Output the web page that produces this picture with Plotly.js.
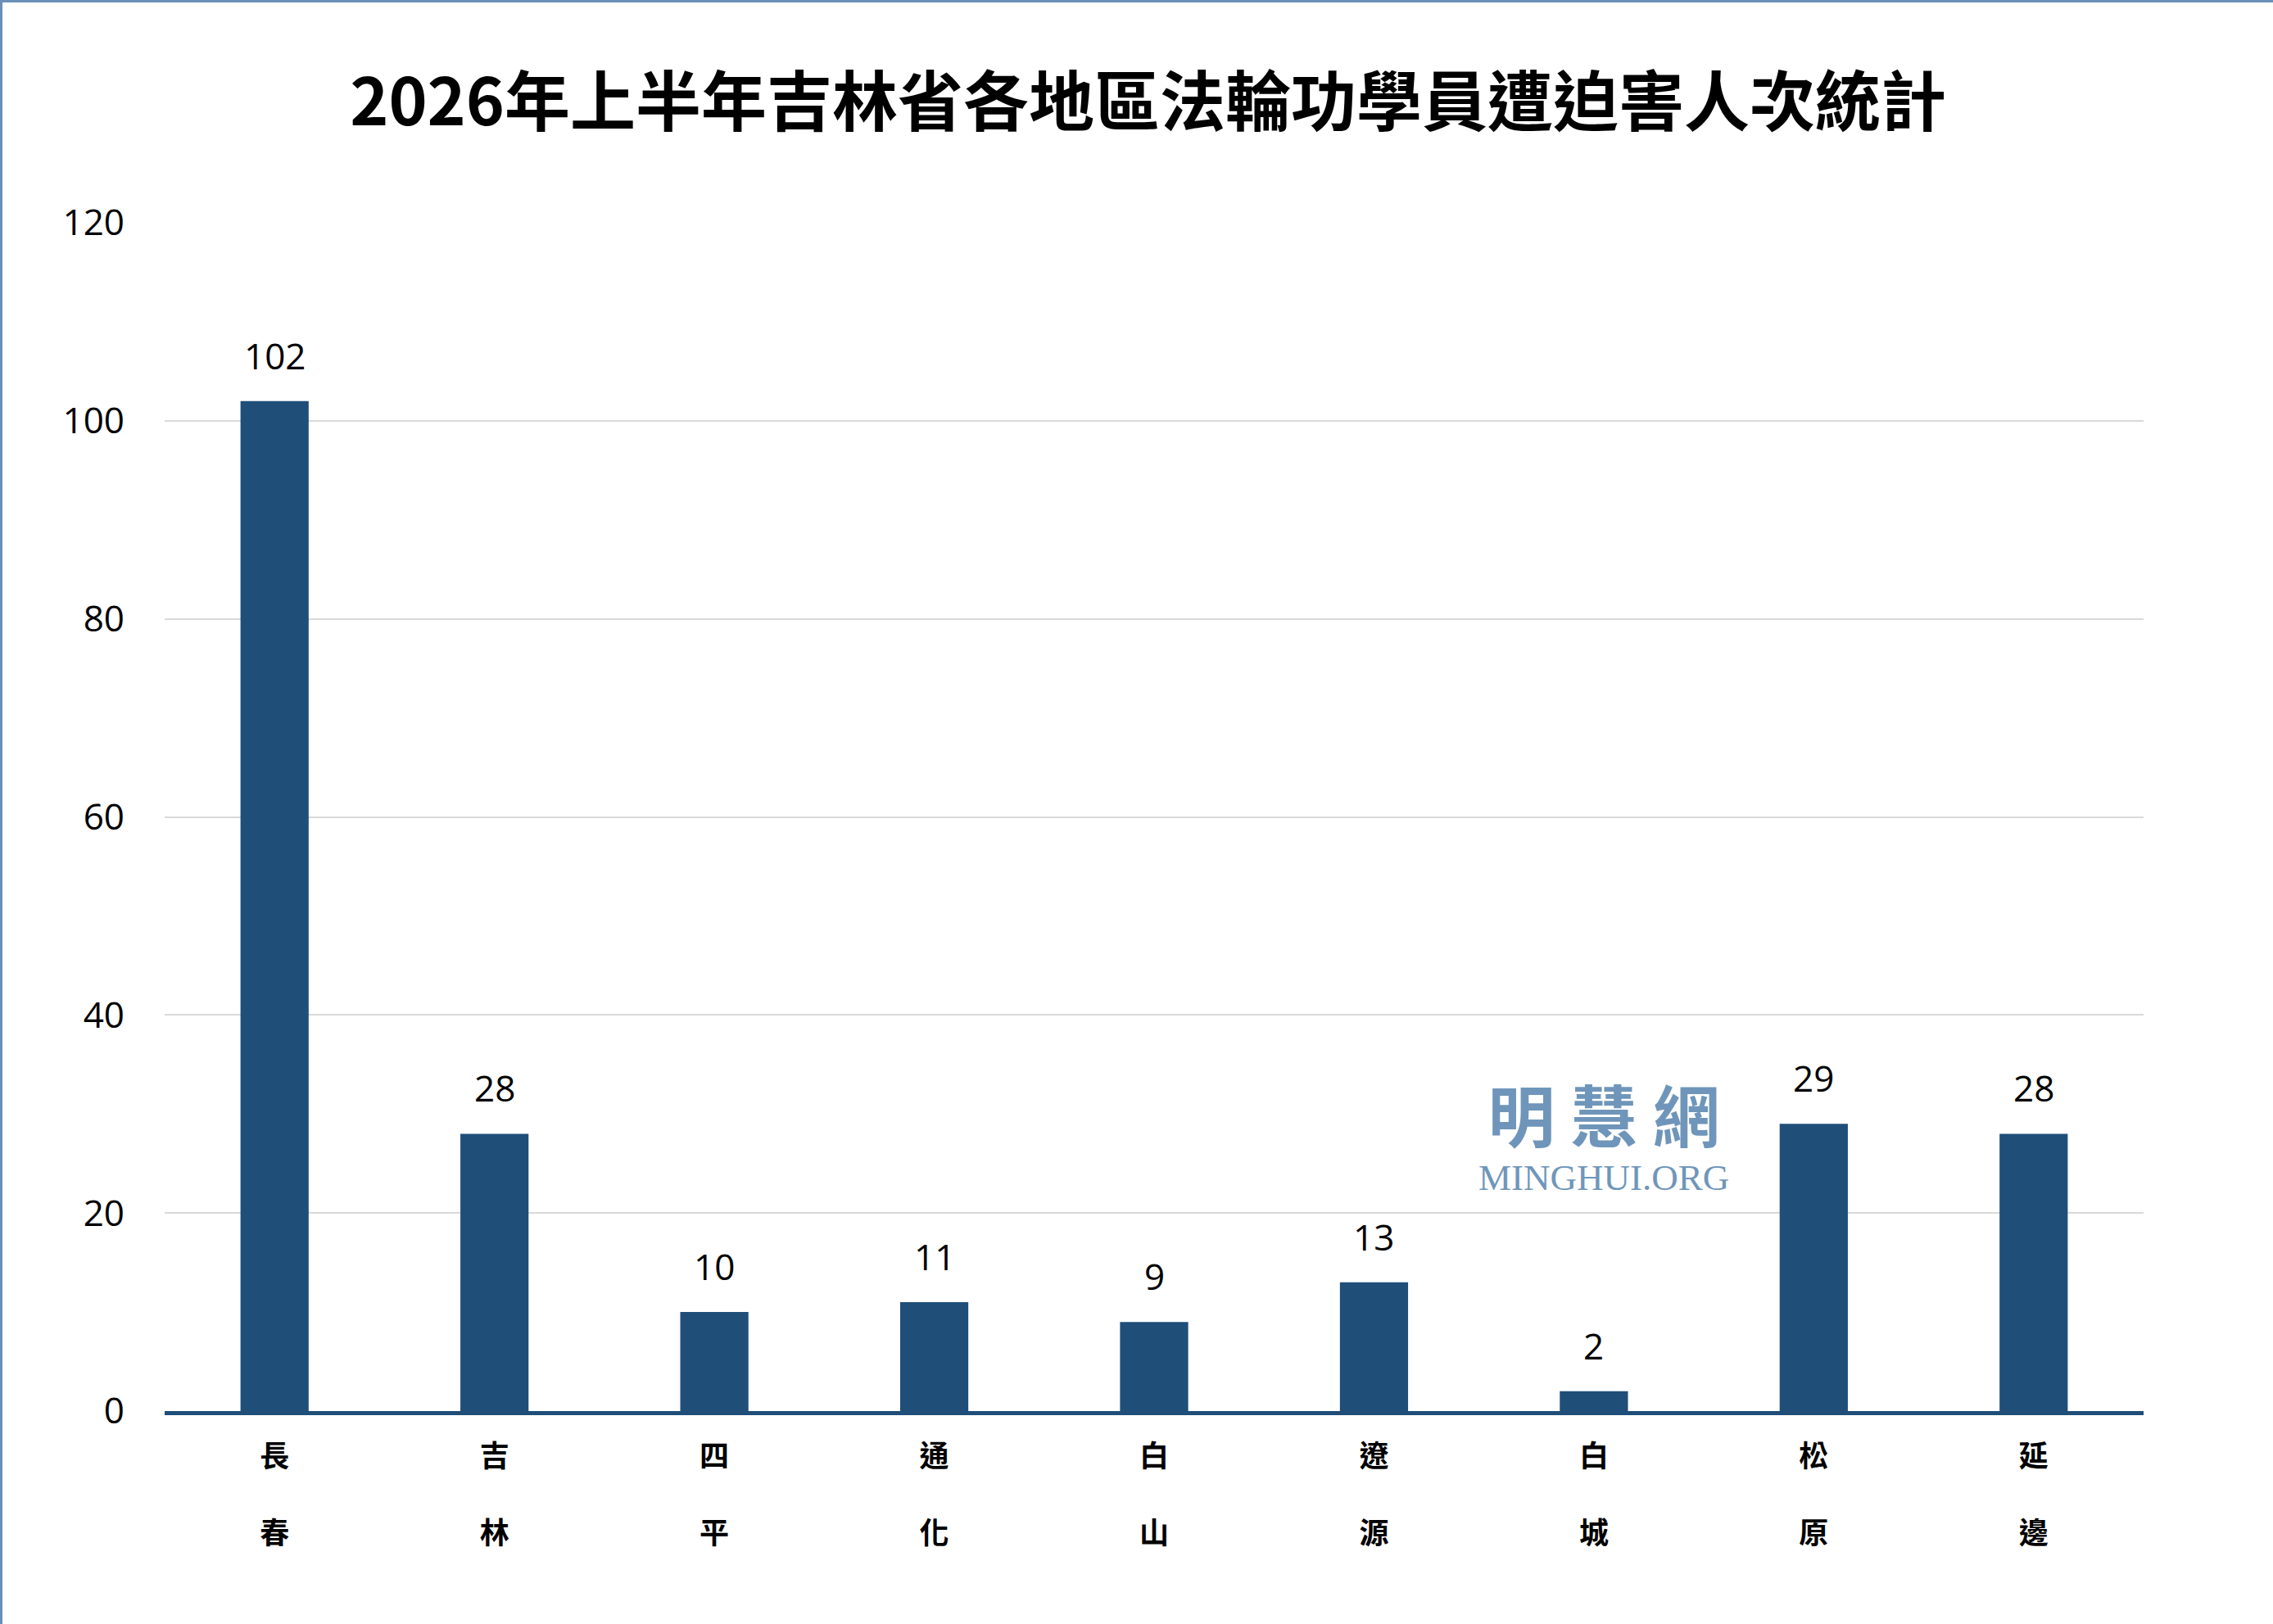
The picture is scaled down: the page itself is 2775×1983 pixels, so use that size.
<!DOCTYPE html>
<html>
<head>
<meta charset="utf-8">
<script src="https://cdn.plot.ly/plotly-3.0.1.min.js"></script>
<style>
  html, body { margin: 0; padding: 0; background: #fff; }
  #plot { width: 2775px; height: 1983px; box-sizing: border-box; border: 3px solid #6a8fb8; }
</style>
</head>
<body>
<div id="plot"></div>
<script>
// regions of Jilin (two characters stacked) and persecution counts
let regions = ['長春', '吉林', '四平', '通化', '白山', '遼源', '白城', '松原', '延邊'];
let counts = [102, 28, 10, 11, 9, 13, 2, 29, 28];
let yTicks = [0, 20, 40, 60, 80, 100, 120];
let titleText = '2026年上半年吉林省各地區法輪功學員遭迫害人次統計';

let barColor = '#1f4e79';
let logoColor = '#6f96ba';
let cjkFont = '"Noto Sans CJK TC", "Noto Sans CJK SC", sans-serif';
let numFont = '"Open Sans", "Noto Sans", sans-serif';
let serifFont = '"Liberation Serif", "DejaVu Serif", serif';

// stack the two characters of each name with a blank line between them
let tickLabels = regions.map(name => name.split('').join('<br><br>'));

let data = [{
  type: 'bar',
  x: regions,
  y: counts,
  marker: { color: barColor },
  hoverinfo: 'none'
}];

// value labels sit a little above each bar
let valueLabels = regions.map((name, i) => ({
  x: name,
  y: counts[i],
  xref: 'x',
  yref: 'y',
  text: String(counts[i]),
  showarrow: false,
  xanchor: 'center',
  yanchor: 'bottom',
  yshift: 24,
  font: { family: numFont, size: 44, color: '#000' }
}));

// watermark logo, both lines in one text block
let logo = {
  xref: 'paper',
  yref: 'paper',
  x: (1955 - 198) / (2614 - 198),
  y: (1720 - 1378) / (1720 - 269),
  xanchor: 'center',
  yanchor: 'middle',
  showarrow: false,
  text: '<span style="font-size:82px;font-weight:700">明 慧 網</span><br>' +
        '<span style="font-family:' + serifFont.replace(/"/g, "'") + '">MINGHUI.ORG</span>',
  font: { family: cjkFont, size: 45, color: logoColor }
};

let layout = {
  width: 2775,
  height: 1983,
  paper_bgcolor: '#fff',
  plot_bgcolor: '#fff',
  showlegend: false,
  bargap: 0.69,
  margin: { l: 198, r: 161, t: 269, b: 263 },
  title: {
    text: '<b>' + titleText + '</b>',
    font: { family: cjkFont, size: 80, color: '#000', weight: 900 },
    x: 0.504,
    xanchor: 'center',
    y: 1 - 122 / 1983,
    yanchor: 'middle',
    yref: 'container'
  },
  xaxis: {
    type: 'category',
    tickmode: 'array',
    tickvals: regions,
    ticktext: tickLabels,
    tickfont: { family: cjkFont, size: 36, color: '#000', weight: 700 },
    showgrid: false,
    zeroline: false,
    showline: true,
    linecolor: barColor,
    linewidth: 5,
    ticks: '',
    ticklabelstandoff: 20
  },
  yaxis: {
    range: [0, 120],
    tickmode: 'array',
    tickvals: yTicks,
    ticktext: yTicks.map(String),
    tickfont: { family: numFont, size: 44, color: '#000' },
    showgrid: true,
    gridcolor: '#d9d9d9',
    gridwidth: 2,
    zeroline: false,
    showline: false,
    ticks: '',
    ticklabelstandoff: 48
  },
  annotations: valueLabels.concat([logo])
};

let options = { staticPlot: true };

Plotly.newPlot('plot', data, layout, options);
</script>
</body>
</html>
